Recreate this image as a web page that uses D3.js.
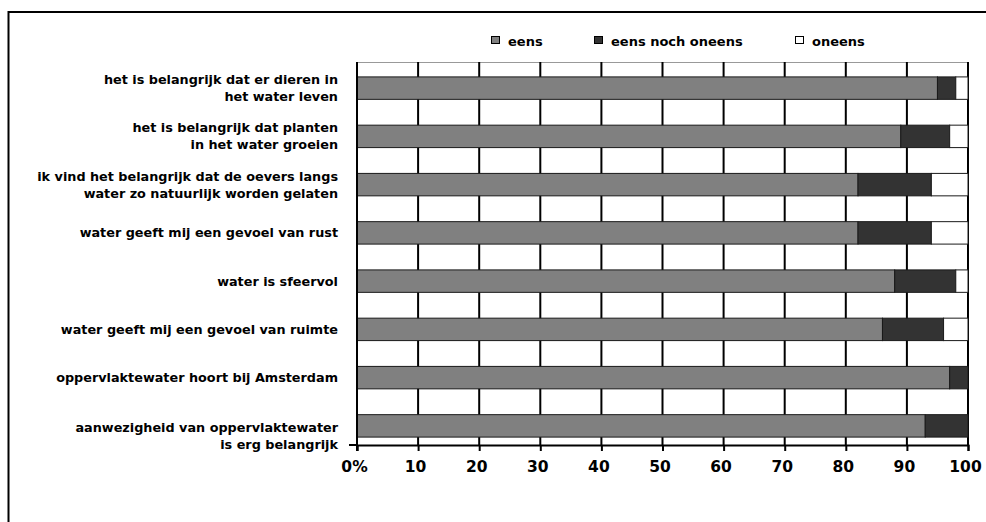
<!DOCTYPE html>
<html>
<head>
<meta charset="utf-8">
<script src="https://cdn.jsdelivr.net/npm/d3@7"></script>
<style>
  html, body { margin: 0; padding: 0; background: #fff; }
  svg { display: block; }
  text { font-family: "DejaVu Sans", sans-serif; font-weight: bold; fill: #000; }
</style>
</head>
<body>
<script>
// ---- data ----
const categories = [
  "het is belangrijk dat er dieren in\nhet water leven",
  "het is belangrijk dat planten\nin het water groeien",
  "ik vind het belangrijk dat de oevers langs\nwater zo natuurlijk worden gelaten",
  "water geeft mij een gevoel van rust",
  "water is sfeervol",
  "water geeft mij een gevoel van ruimte",
  "oppervlaktewater hoort bij Amsterdam",
  "aanwezigheid van oppervlaktewater\nis erg belangrijk"
];
const seriesNames = ["eens", "eens noch oneens", "oneens"];
const eens = [95, 89, 82, 82, 88, 86, 97, 93];
const eensNochOneens = [3, 8, 12, 12, 10, 10, 3, 7];
const oneens = [2, 3, 6, 6, 2, 4, 0, 0];
const xTickValues = [0, 10, 20, 30, 40, 50, 60, 70, 80, 90, 100];
const xTickLabels = ["0%", "10", "20", "30", "40", "50", "60", "70", "80", "90", "100"];

// ---- layout ----
const W = 986, H = 522;
const plot = { left: 357, right: 968, top: 62, bottom: 445 };
const colors = ["#808080", "#333333", "#ffffff"];

const svg = d3.select("body").append("svg").attr("width", W).attr("height", H);

// outer frame
svg.append("rect").attr("x", 8.5).attr("y", 12).attr("width", 1200).attr("height", 1200)
  .attr("fill", "none").attr("stroke", "#000").attr("stroke-width", 2);

const x = d3.scaleLinear().domain([0, 100]).range([plot.left, plot.right]);
const y = d3.scaleBand().domain(categories).range([64, 450])
  .paddingInner(0.535).paddingOuter(0.2675);

// plot top border
svg.append("line").attr("x1", plot.left).attr("x2", plot.right)
  .attr("y1", plot.top + 0.5).attr("y2", plot.top + 0.5)
  .attr("stroke", "#999").attr("stroke-width", 1);

// vertical gridlines
svg.append("g").selectAll("line").data(xTickValues.filter(d => d > 0)).join("line")
  .attr("x1", d => x(d)).attr("x2", d => x(d))
  .attr("y1", plot.top).attr("y2", plot.bottom)
  .attr("stroke", "#000").attr("stroke-width", 2);

// stacked bars
const stackData = categories.map((c, i) => ({ cat: c, eens: eens[i], noch: eensNochOneens[i], oneens: oneens[i] }));
const layers = d3.stack().keys(["eens", "noch", "oneens"])(stackData);

svg.append("g").selectAll("g").data(layers).join("g")
  .attr("fill", (d, i) => colors[i])
  .selectAll("rect").data(d => d.filter(s => s[1] - s[0] > 0)).join("rect")
  .attr("x", d => x(d[0]))
  .attr("width", d => x(d[1]) - x(d[0]))
  .attr("y", d => y(d.data.cat))
  .attr("height", y.bandwidth())
  .attr("stroke", "#1a1a1a").attr("stroke-width", 1);

// x axis
const xAxis = d3.axisBottom(x).tickValues(xTickValues)
  .tickFormat((d, i) => xTickLabels[i]).tickSize(6).tickPadding(10);
const gx = svg.append("g").attr("transform", `translate(0,${plot.bottom})`).call(xAxis);
gx.select(".domain").attr("stroke", "#000").attr("stroke-width", 2);
gx.selectAll(".tick line").attr("stroke", "#000").attr("stroke-width", 2);
gx.selectAll(".tick text").attr("font-size", 15.5).attr("font-family", "DejaVu Sans")
  .attr("font-weight", "bold").attr("dx", -3);

// y axis line + bottom tick
svg.append("line").attr("x1", plot.left).attr("x2", plot.left)
  .attr("y1", plot.top).attr("y2", plot.bottom + 6)
  .attr("stroke", "#000").attr("stroke-width", 2);
svg.append("line").attr("x1", plot.left - 8).attr("x2", plot.left)
  .attr("y1", plot.bottom).attr("y2", plot.bottom)
  .attr("stroke", "#000").attr("stroke-width", 2);

// category labels
const lineH = 17;
const labelG = svg.append("g");
categories.forEach((c, i) => {
  const lines = c.split("\n");
  const cy = y(c) + y.bandwidth() / 2 + (i === categories.length - 1 ? 10 : 0);
  const t = labelG.append("text").attr("text-anchor", "end").attr("font-size", 12.8);
  lines.forEach((ln, j) => {
    t.append("tspan").attr("x", 338)
      .attr("y", cy + (j - (lines.length - 1) / 2) * lineH + 4.5)
      .text(ln);
  });
});

// legend
const legendX = [491, 594, 795];
const lg = svg.append("g");
seriesNames.forEach((n, i) => {
  lg.append("rect").attr("x", legendX[i] + 0.5).attr("y", 36.5).attr("width", 8).attr("height", 7)
    .attr("fill", colors[i]).attr("stroke", "#000").attr("stroke-width", 1);
  lg.append("text").attr("x", legendX[i] + 17).attr("y", 46).attr("font-size", 13).text(n);
});
</script>
</body>
</html>
